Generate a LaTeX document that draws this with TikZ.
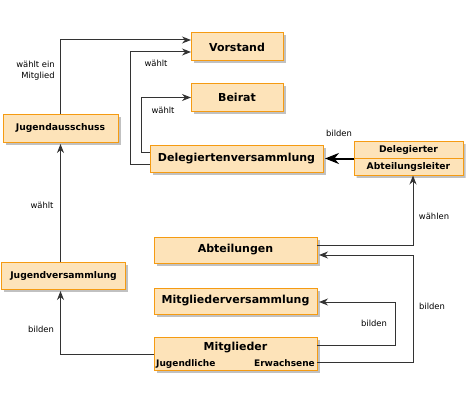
\documentclass[tikz,border=0pt]{standalone}
\usepackage{fontspec}
\setmainfont{DejaVu Sans}
\usetikzlibrary{calc,shadows,arrows.meta,shapes.multipart}

\definecolor{boxfill}{HTML}{FDE3B9}
\definecolor{boxline}{HTML}{F59B12}
\definecolor{linegray}{HTML}{333333}

\tikzset{
  organ/.style={draw=boxline, fill=boxfill, line width=1pt, inner sep=0pt, outer sep=0pt,
    font=\bfseries\fontsize{11}{13}\selectfont,
    drop shadow={shadow xshift=2.5pt, shadow yshift=-2.5pt, fill=black!35, opacity=.7}},
  organsmall/.style={organ, font=\bfseries\fontsize{9.2}{11}\selectfont},
  arr/.style={draw=linegray, line width=1pt, -{Stealth[length=9pt,width=7pt]}},
  bigarr/.style={draw=black, line width=2pt, -{Stealth[length=14pt,width=11pt]}},
  lbl/.style={font=\fontsize{8.4}{11}\selectfont, inner sep=0pt},
  sublbl/.style={font=\bfseries\fontsize{9}{10}\selectfont, inner sep=0pt}
}

\begin{document}
\begin{tikzpicture}[x=1pt,y=-1pt]
    \useasboundingbox (0,0) rectangle (474,404);

    % Define the boxes
    \node[organ, minimum width=92pt, minimum height=28pt] (vorstand) at (237,47) {Vorstand};
    \node[organ, minimum width=92pt, minimum height=27pt] (beirat) at (237,97.5) {Beirat};
    \node[organsmall, minimum width=115pt, minimum height=28pt] (jausschuss) at (60.5,128) {Jugendausschuss};
    \node[organ, minimum width=173pt, minimum height=27pt] (delegv) at (236.5,158.5) {Delegiertenversammlung};
    \node[organsmall, rectangle split, rectangle split parts=2, text width=109pt, align=center,
          minimum height=35pt, inner ysep=3.5pt] (deleg) at (408.5,158.5)
          {Delegierter \nodepart{two} Abteilungsleiter};
    \node[organ, minimum width=163pt, minimum height=26pt] (abteil) at (235.5,250) {Abteilungen};
    \node[organsmall, minimum width=124pt, minimum height=27pt] (jversamml) at (63.5,275.5) {Jugendversammlung};
    \node[organ, minimum width=163pt, minimum height=26pt] (mversamml) at (235.5,301) {Mitgliederversammlung};
    \node[organ, minimum width=163pt, minimum height=33pt] (mitgl) at (235.5,353.5) {};
    \node[inner sep=0pt, font=\bfseries\fontsize{11}{13}\selectfont] (mitgltxt) at (235.5,348) {Mitglieder};
    \node[sublbl, anchor=base west] (jugendl) at ($(mitgl.south west)+(2,-3.5)$) {Jugendliche};
    \node[sublbl, anchor=base east] (erwachs) at ($(mitgl.south east)+(-2,-3.5)$) {Erwachsene};

    % Draw the connectors
    \draw[arr] (jausschuss.north) |- ($(vorstand.west)+(0,-7)$);
    \draw[arr] ($(delegv.west)+(0,5.5)$) -- ++(-20,0) |- ($(vorstand.west)+(0,5)$);
    \draw[arr] ($(delegv.west)+(0,-6.5)$) -- ++(-9,0) |- (beirat.west);
    \draw[bigarr] (deleg.west) -- ($(delegv.east)+(2,0)$);
    \draw[arr] ($(abteil.east)+(0,-5)$) -| ($(deleg.south)+(4.5,0)$);
    \draw[arr] ($(mitgl.east)+(0,8.5)$) -- ++(96,0) |- ($(abteil.east)+(2,5)$);
    \draw[arr] ($(mitgl.east)+(0,-8.5)$) -- ++(78,0) |- ($(mversamml.east)+(2,1)$);
    \draw[arr] ($(mitgl.west)+(0,0.5)$) -| ($(jversamml.south -| jausschuss.south)+(0,2)$);
    \draw[arr] (jversamml.north -| jausschuss.south) -- ($(jausschuss.south)+(0,2)$);

    % Place the labels
    \node[lbl, align=right] (l1) at (35.5,71) {wählt ein\\Mitglied};
    \node[lbl] (l2) at (156,63) {wählt};
    \node[lbl] (l3) at (163,110) {wählt};
    \node[lbl] (l4) at (339,133) {bilden};
    \node[lbl] (l5) at (434,216) {wählen};
    \node[lbl] (l6) at (432,306) {bilden};
    \node[lbl] (l7) at (374,323) {bilden};
    \node[lbl] (l8) at (41,329) {bilden};
    \node[lbl] (l9) at (42,205) {wählt};

\end{tikzpicture}
\end{document}
